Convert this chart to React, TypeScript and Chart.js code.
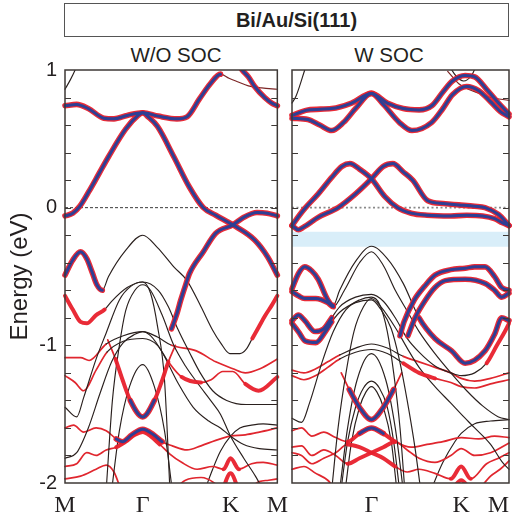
import React, { useEffect, useRef } from 'react';
import { Chart, registerables } from 'chart.js';

Chart.register(...registerables);

// ---------------- axes ----------------
const K_END = 2.732;
const kTicks = [0, 1, 2.13, 2.732];
const kLabels = ['M', 'Γ', 'K', 'M'];
const eMin = -2;
const eMax = 1;
const eLabelStep = 1;
const eMinorTicks = [-1.8, -1.6, -1.4, -1.2, -1, -0.8, -0.6, -0.4, -0.2, 0, 0.2, 0.4, 0.6, 0.8];
const fermiLevel = 0;
const socGapTop = -0.175;
const socGapBottom = -0.283;

// ---------------- W/O SOC bands ([k, E in eV]) ----------------
const L_top = [[0, 0.86], [0.07, 0.93], [0.13, 1.0], [0.2, 1.1]];
const L_A = [[0, 0.74], [0.15, 0.75], [0.3, 0.72], [0.5, 0.65], [0.63, 0.645], [0.8, 0.67], [1.0, 0.69], [1.2, 0.665], [1.44, 0.645], [1.57, 0.66], [1.73, 0.79], [1.87, 0.9], [2.0, 0.97], [2.11, 0.94], [2.22, 0.915], [2.36, 0.885], [2.53, 0.87], [2.732, 0.86]];
const L_B = [[2.15, 1.12], [2.28, 1.0], [2.36, 0.95], [2.44, 0.88], [2.57, 0.8], [2.66, 0.76], [2.732, 0.74]];
const L_C = [[0, -0.06], [0.1, -0.04], [0.19, 0.01], [0.31, 0.12], [0.44, 0.25], [0.56, 0.37], [0.78, 0.57], [0.94, 0.67], [1.0, 0.69], [1.07, 0.66], [1.19, 0.59], [1.4, 0.37], [1.6, 0.15], [1.78, 0.0], [1.94, -0.055], [2.16, -0.125], [2.44, -0.235], [2.61, -0.36], [2.732, -0.49]];
const L_alpha = [[0, -0.49], [0.1, -0.38], [0.2, -0.32], [0.28, -0.37], [0.35, -0.47], [0.41, -0.56], [0.48, -0.6], [0.56, -0.5], [0.78, -0.31], [1.0, -0.2], [1.19, -0.29], [1.4, -0.43], [1.57, -0.53], [1.75, -0.72], [1.9, -0.89], [2.0, -0.98], [2.12, -1.06], [2.25, -1.06], [2.33, -1.03], [2.41, -0.95], [2.49, -0.87], [2.58, -0.78], [2.66, -0.71], [2.732, -0.64]];
const L_D = [[1.37, -0.88], [1.44, -0.77], [1.49, -0.67], [1.57, -0.53], [1.6, -0.48], [1.78, -0.32], [1.94, -0.185], [2.16, -0.125], [2.3, -0.07], [2.47, -0.035], [2.6, -0.04], [2.732, -0.06]];
const L_gam = [[0, -0.64], [0.1, -0.74], [0.2, -0.83], [0.28, -0.84], [0.4, -0.78], [0.51, -0.74], [0.6, -0.68], [0.8, -0.58], [1.0, -0.54], [1.2, -0.6], [1.33, -0.72], [1.45, -0.88], [1.6, -1.05], [1.74, -1.2], [1.9, -1.33], [2.08, -1.4], [2.33, -1.43], [2.732, -1.43]];
const L_K2 = [[0, -1.45], [0.15, -1.52], [0.24, -1.38], [0.4, -1.1], [0.53, -0.91], [0.7, -0.67], [0.85, -0.57], [1.0, -0.54], [1.1, -0.62], [1.19, -0.86], [1.28, -1.25], [1.35, -2.05]];
const L_N1 = [[0.53, -2.05], [0.61, -1.4], [0.7, -1.0], [0.78, -0.75], [0.9, -0.6], [1.0, -0.56], [1.1, -0.6], [1.25, -0.78], [1.4, -1.0], [1.55, -1.15], [1.7, -1.27], [1.9, -1.42], [2.0, -1.5], [2.13, -1.66], [2.3, -1.82], [2.45, -1.95], [2.55, -2.05]];
const L_R1 = [[0, -1.09], [0.2, -1.09], [0.31, -1.11], [0.53, -0.99], [0.75, -0.93], [1.0, -0.9], [1.19, -0.94], [1.37, -1.0], [1.69, -1.04], [1.94, -1.12], [2.16, -1.17], [2.32, -1.2], [2.51, -1.17], [2.732, -1.1]];
const L_R2 = [[0, -1.22], [0.13, -1.27], [0.24, -1.33], [0.4, -1.18], [0.54, -1.05], [0.75, -0.97], [1.0, -0.95], [1.19, -1.0], [1.33, -1.12], [1.5, -1.23], [1.75, -1.27], [1.88, -1.25], [2.03, -1.19], [2.16, -1.19], [2.32, -1.28], [2.49, -1.33], [2.732, -1.23]];
const L_K3 = [[0, -1.82], [0.15, -1.78], [0.3, -1.6], [0.45, -1.35], [0.6, -1.12], [0.75, -0.98], [0.9, -0.92], [1.0, -0.9], [1.1, -0.93], [1.25, -1.05], [1.45, -1.27], [1.65, -1.45], [1.85, -1.55], [2.0, -1.6], [2.13, -1.66], [2.3, -1.72], [2.5, -1.75], [2.732, -1.76]];
const L_N2 = [[0.59, -2.1], [0.7, -1.62], [0.83, -1.3], [1.0, -1.14], [1.15, -1.3], [1.28, -1.62], [1.39, -2.1]];
const L_V = [[0.55, -0.96], [0.65, -1.1], [0.74, -1.25], [0.84, -1.4], [1.0, -1.52], [1.15, -1.4], [1.24, -1.27], [1.33, -1.12], [1.42, -1.0]];
const L_R3 = [[0, -1.6], [0.11, -1.58], [0.24, -1.63], [0.4, -1.6], [0.53, -1.62], [0.66, -1.68], [0.74, -1.7], [0.86, -1.65], [1.0, -1.61], [1.14, -1.65], [1.25, -1.7], [1.38, -1.73], [1.57, -1.76], [1.75, -1.73], [1.94, -1.69], [2.13, -1.66], [2.32, -1.65], [2.5, -1.63], [2.732, -1.6]];
const L_R4 = [[0, -1.88], [0.15, -1.86], [0.28, -1.78], [0.4, -1.8], [0.53, -1.76], [0.66, -1.74], [0.78, -1.7], [0.9, -1.65], [1.0, -1.63], [1.1, -1.66], [1.22, -1.72], [1.35, -1.79], [1.5, -1.85], [1.7, -1.9], [1.9, -1.88], [2.04, -1.9], [2.13, -1.82], [2.24, -1.9], [2.4, -1.86], [2.55, -1.85], [2.732, -1.87]];
const L_R5 = [[0, -1.97], [0.2, -1.95], [0.4, -1.9], [0.53, -1.87], [0.63, -1.92], [0.72, -2.05]];
const L_R6 = [[1.4, -2.05], [1.55, -1.98], [1.75, -1.96], [1.92, -2.0], [2.0, -2.05]];
const L_R7 = [[2.02, -2.06], [2.13, -1.93], [2.24, -2.06]];
const L_R8 = [[2.35, -2.05], [2.5, -1.99], [2.62, -1.98], [2.732, -1.97]];
const L_K4 = [[1.8, -2.05], [1.9, -1.9], [2.0, -1.77], [2.13, -1.66], [2.25, -1.6], [2.4, -1.58], [2.55, -1.57], [2.732, -1.58]];

// ---------------- W SOC bands ([k, E in eV]) ----------------
const R_top = [[0, 0.76], [0.05, 0.81], [0.1, 0.89], [0.16, 1.0], [0.22, 1.1]];
const R_Ua = [[0, 0.67], [0.2, 0.71], [0.5, 0.72], [0.75, 0.76], [1.0, 0.83], [1.2, 0.76], [1.4, 0.72], [1.6, 0.71], [1.76, 0.74], [1.9, 0.84], [2.02, 0.92], [2.18, 0.96], [2.3, 0.95], [2.45, 0.86], [2.6, 0.76], [2.732, 0.68]];
const R_Ub = [[0, 0.65], [0.2, 0.64], [0.35, 0.6], [0.5, 0.56], [0.65, 0.62], [0.8, 0.72], [1.0, 0.83], [1.15, 0.75], [1.35, 0.62], [1.51, 0.56], [1.76, 0.62], [1.9, 0.72], [2.02, 0.82], [2.2, 0.88], [2.35, 0.85], [2.5, 0.77], [2.62, 0.7], [2.732, 0.66]];
const R_T1 = [[1.98, 1.03], [2.06, 0.96], [2.16, 0.92], [2.26, 0.96], [2.32, 1.03]];
const R_T2 = [[1.96, 0.99], [2.1, 0.9], [2.22, 0.86], [2.36, 0.83], [2.5, 0.8], [2.732, 0.78]];
const R_Va = [[0, -0.13], [0.1, -0.05], [0.17, 0.0], [0.33, 0.1], [0.5, 0.22], [0.63, 0.3], [0.73, 0.32], [0.85, 0.28], [1.0, 0.21], [1.17, 0.08], [1.33, 0.0], [1.5, -0.04], [1.7, -0.055], [2.0, -0.06], [2.2, -0.055], [2.4, -0.06], [2.55, -0.08], [2.65, -0.11], [2.732, -0.13]];
const R_Vb = [[0, -0.13], [0.08, -0.16], [0.15, -0.14], [0.33, -0.07], [0.58, 0.0], [0.8, 0.1], [1.0, 0.21], [1.15, 0.3], [1.27, 0.32], [1.4, 0.26], [1.52, 0.2], [1.71, 0.05], [1.9, 0.03], [2.1, 0.02], [2.3, 0.01], [2.43, 0.0], [2.6, -0.05], [2.732, -0.13]];
const R_P1 = [[0, -0.59], [0.08, -0.48], [0.16, -0.43], [0.25, -0.46], [0.33, -0.52], [0.45, -0.67], [0.52, -0.71], [0.6, -0.6], [0.8, -0.39], [1.0, -0.28], [1.2, -0.37], [1.4, -0.55], [1.6, -0.8], [1.8, -0.95], [2.01, -1.04], [2.18, -1.13], [2.43, -1.04], [2.55, -0.92], [2.64, -0.8], [2.732, -0.82]];
const R_P2 = [[0, -0.61], [0.08, -0.64], [0.16, -0.66], [0.3, -0.66], [0.45, -0.69], [0.52, -0.72], [0.66, -0.6], [0.85, -0.4], [1.0, -0.32], [1.15, -0.42], [1.3, -0.6], [1.45, -0.75], [1.6, -0.9], [1.8, -1.06], [2.0, -1.2], [2.2, -1.33], [2.4, -1.44], [2.6, -1.52], [2.732, -1.54]];
const R_D1 = [[1.36, -0.93], [1.41, -0.83], [1.54, -0.67], [1.67, -0.57], [1.8, -0.49], [2.0, -0.45], [2.18, -0.44], [2.3, -0.43], [2.43, -0.43], [2.55, -0.5], [2.64, -0.58], [2.732, -0.6]];
const R_D2 = [[1.46, -0.93], [1.55, -0.8], [1.67, -0.68], [1.8, -0.58], [1.93, -0.53], [2.18, -0.52], [2.43, -0.55], [2.55, -0.6], [2.64, -0.65], [2.732, -0.62]];
const R_P3 = [[0, -0.82], [0.08, -0.78], [0.16, -0.82], [0.29, -0.9], [0.4, -0.88], [0.5, -0.8], [0.6, -0.72], [0.8, -0.65], [1.0, -0.63], [1.15, -0.68], [1.3, -0.8], [1.45, -0.95], [1.6, -1.05], [1.8, -1.15], [2.0, -1.2], [2.13, -1.22], [2.3, -1.2], [2.45, -1.13], [2.58, -1.0], [2.68, -0.9], [2.732, -0.84]];
const R_P4 = [[0, -0.84], [0.08, -0.9], [0.17, -0.97], [0.3, -0.98], [0.42, -0.9], [0.5, -0.83], [0.6, -0.76], [0.8, -0.69], [1.0, -0.67], [1.12, -0.74], [1.25, -0.88], [1.35, -1.1], [1.45, -1.4], [1.55, -1.75], [1.62, -2.05]];
const R_K2 = [[0, -1.53], [0.12, -1.56], [0.22, -1.42], [0.38, -1.12], [0.52, -0.9], [0.68, -0.74], [0.85, -0.67], [1.0, -0.65], [1.1, -0.7], [1.2, -0.9], [1.28, -1.2], [1.36, -1.6], [1.42, -2.05]];
const R_B2 = [[0.5, -2.05], [0.58, -1.6], [0.68, -1.2], [0.78, -0.9], [0.9, -0.72], [1.0, -0.66], [1.12, -0.72], [1.3, -0.87], [1.45, -1.02], [1.6, -1.16], [1.8, -1.3], [2.0, -1.42], [2.13, -1.5], [2.3, -1.6], [2.5, -1.72], [2.65, -1.85], [2.732, -1.9]];
const R_B99 = [[0, -1.18], [0.15, -1.2], [0.3, -1.17], [0.45, -1.12], [0.6, -1.07], [0.8, -1.02], [1.0, -0.99], [1.2, -1.02], [1.4, -1.08], [1.6, -1.12], [1.8, -1.16], [2.0, -1.2], [2.13, -1.24], [2.3, -1.26], [2.5, -1.24], [2.732, -1.2]];
const R_B103 = [[0, -1.22], [0.15, -1.25], [0.3, -1.22], [0.45, -1.16], [0.6, -1.1], [0.8, -1.05], [1.0, -1.03], [1.2, -1.06], [1.4, -1.13], [1.6, -1.2], [1.8, -1.24], [2.0, -1.27], [2.13, -1.3], [2.3, -1.31], [2.5, -1.28], [2.732, -1.25]];
const R_B106 = [[0.6, -2.05], [0.7, -1.6], [0.82, -1.25], [1.0, -1.06], [1.18, -1.25], [1.3, -1.6], [1.4, -2.05]];
const R_B126 = [[0.61, -2.08], [0.7, -1.7], [0.8, -1.45], [0.9, -1.31], [1.0, -1.26], [1.1, -1.31], [1.2, -1.45], [1.28, -1.7], [1.36, -2.08]];
const R_B130 = [[0.67, -2.05], [0.75, -1.7], [0.85, -1.45], [0.93, -1.34], [1.0, -1.3], [1.07, -1.34], [1.15, -1.45], [1.25, -1.7], [1.32, -2.05]];
const R_FV = [[0.62, -1.2], [0.72, -1.32], [0.85, -1.45], [1.0, -1.54], [1.15, -1.45], [1.28, -1.32], [1.38, -1.2]];
const R_FA = [[0, -1.62], [0.12, -1.6], [0.25, -1.66], [0.4, -1.63], [0.55, -1.67], [0.7, -1.7], [0.85, -1.64], [1.0, -1.6], [1.15, -1.64], [1.3, -1.7], [1.5, -1.74], [1.7, -1.72], [1.9, -1.7], [2.13, -1.67], [2.35, -1.68], [2.55, -1.66], [2.732, -1.67]];
const R_FX1 = [[0, -1.74], [0.12, -1.73], [0.25, -1.8], [0.4, -1.76], [0.55, -1.8], [0.7, -1.86], [0.85, -1.82], [1.0, -1.78], [1.15, -1.74], [1.3, -1.7], [1.45, -1.76], [1.6, -1.82], [1.8, -1.85], [2.0, -1.8], [2.13, -1.75], [2.3, -1.8], [2.5, -1.78], [2.732, -1.71]];
const R_FX2 = [[0, -1.78], [0.12, -1.8], [0.25, -1.86], [0.4, -1.82], [0.55, -1.78], [0.7, -1.72], [0.85, -1.74], [1.0, -1.78], [1.15, -1.82], [1.3, -1.88], [1.45, -1.92], [1.6, -1.9], [1.8, -1.93], [2.0, -1.97], [2.13, -1.88], [2.25, -1.97], [2.45, -1.86], [2.6, -1.82], [2.732, -1.78]];
const R_r3 = [[0, -1.9], [0.15, -1.88], [0.3, -1.93], [0.45, -1.98], [0.55, -2.05]];
const R_r4 = [[2.35, -2.05], [2.5, -1.95], [2.62, -1.9], [2.732, -1.84]];
const R_r5 = [[2.0, -2.06], [2.13, -1.98], [2.26, -2.06]];
const R_K4 = [[1.75, -2.05], [1.9, -1.85], [2.05, -1.7], [2.13, -1.64], [2.3, -1.57], [2.5, -1.55], [2.732, -1.54]];

// ---------------- band styling (k-ranges -> line style code) ----------------
const leftBands = [
  { pts: L_top, base: 'k' },
  { pts: L_A, base: 'dr', parts: [[0, 2.0, 'fb']] },
  { pts: L_B, base: 'fb' },
  { pts: L_C, base: 'fb' },
  { pts: L_alpha, base: 'k', parts: [[0, 0.48, 'fb'], [2.41, 2.732, 'f']] },
  { pts: L_D, base: 'fb' },
  { pts: L_gam, base: 'k', parts: [[0, 0.51, 'f']] },
  { pts: L_K2, base: 'k' },
  { pts: L_N1, base: 'k' },
  { pts: L_R1, base: 'r', parts: [[0.53, 1.37, 'k']] },
  { pts: L_R2, base: 'r', parts: [[0.54, 1.33, 'k'], [1.42, 1.8, 'f'], [2.3, 2.732, 'f']] },
  { pts: L_K3, base: 'k' },
  { pts: L_N2, base: 'k' },
  { pts: L_V, base: 'r', parts: [[0.63, 0.84, 'f'], [0.84, 1.15, 'fb'], [1.15, 1.35, 'f']] },
  { pts: L_R3, base: 'r', parts: [[0.7, 1.3, 'fb']] },
  { pts: L_R4, base: 'r', parts: [[0.7, 1.28, 'f'], [2.0, 2.26, 'f']] },
  { pts: L_R5, base: 'r' },
  { pts: L_R6, base: 'r' },
  { pts: L_R7, base: 'f' },
  { pts: L_R8, base: 'r' },
  { pts: L_K4, base: 'k' },
];

const rightBands = [
  { pts: R_top, base: 'k' },
  { pts: R_T1, base: 'k' },
  { pts: R_T2, base: 'dr' },
  { pts: R_Ua, base: 'fb' },
  { pts: R_Ub, base: 'fb' },
  { pts: R_Va, base: 'fb' },
  { pts: R_Vb, base: 'fb' },
  { pts: R_P1, base: 'k', parts: [[0, 0.52, 'fb'], [1.55, 2.732, 'fb']] },
  { pts: R_P2, base: 'k', parts: [[0, 0.52, 'fb']] },
  { pts: R_D1, base: 'fb' },
  { pts: R_D2, base: 'fb' },
  { pts: R_P3, base: 'k', parts: [[0, 0.5, 'fb'], [2.5, 2.732, 'f']] },
  { pts: R_P4, base: 'k', parts: [[0, 0.5, 'fb']] },
  { pts: R_K2, base: 'k' },
  { pts: R_B2, base: 'k' },
  { pts: R_B99, base: 'r', parts: [[0.6, 1.4, 'k']] },
  { pts: R_B103, base: 'r', parts: [[0.6, 1.4, 'k'], [1.4, 1.8, 'f']] },
  { pts: R_B106, base: 'k' },
  { pts: R_B126, base: 'k' },
  { pts: R_B130, base: 'k' },
  { pts: R_FV, base: 'r', parts: [[0.7, 1.3, 'fb']] },
  { pts: R_FA, base: 'r', parts: [[0.7, 0.87, 'f'], [0.87, 1.13, 'fb'], [1.13, 1.3, 'f']] },
  { pts: R_FX1, base: 'r', parts: [[0.72, 1.28, 'f']] },
  { pts: R_FX2, base: 'r', parts: [[0.72, 1.28, 'f'], [2.05, 2.22, 'f']] },
  { pts: R_r3, base: 'r' },
  { pts: R_r4, base: 'r' },
  { pts: R_r5, base: 'f' },
  { pts: R_K4, base: 'k' },
];

const TRANSPARENT = 'rgba(0,0,0,0)';
const BLUE = '#2e3f94';
const STY: any = {
  k: { c: '#2a201e', w: 1.15, layer: 0 },
  dr: { c: '#7c2626', w: 1.2, layer: 0 },
  r: { c: '#e0262e', w: 1.7, layer: 0 },
  f: { c: 'rgba(232,32,44,0.95)', w: 4, layer: 1 },
  fb: { c: 'rgba(232,32,44,0.95)', w: 5.6, layer: 1 },
};
const CORE_WIDTH = 3;

function codeAt(b: any, x: number) {
  for (const [a, z, c] of b.parts || []) if (x >= a && x <= z) return c;
  return b.base;
}

function bandDatasets(b: any) {
  const data = b.pts.map((p: number[]) => ({ x: p[0], y: p[1] }));
  const mid = (ctx: any) => (b.pts[ctx.p0DataIndex][0] + b.pts[ctx.p1DataIndex][0]) / 2;
  const codes: string[] = [];
  for (let i = 0; i < b.pts.length - 1; i++) codes.push(codeAt(b, (b.pts[i][0] + b.pts[i + 1][0]) / 2));
  const common = {
    data,
    pointRadius: 0,
    pointHoverRadius: 0,
    cubicInterpolationMode: 'monotone',
    capBezierPoints: false,
    borderCapStyle: 'round',
    borderJoinStyle: 'round',
    fill: false,
    clip: { left: 4, right: 4, top: 0, bottom: 0 },
  };
  const out: any[] = [];
  if (codes.some((c) => STY[c].layer === 0)) {
    out.push({
      ...common,
      order: 30,
      borderColor: TRANSPARENT,
      borderWidth: 1,
      segment: {
        borderColor: (ctx: any) => (STY[codeAt(b, mid(ctx))].layer === 0 ? STY[codeAt(b, mid(ctx))].c : TRANSPARENT),
        borderWidth: (ctx: any) => STY[codeAt(b, mid(ctx))].w,
      },
    });
  }
  if (codes.some((c) => STY[c].layer === 1)) {
    out.push({
      ...common,
      order: 20,
      borderColor: TRANSPARENT,
      borderWidth: 1,
      segment: {
        borderColor: (ctx: any) => (STY[codeAt(b, mid(ctx))].layer === 1 ? STY[codeAt(b, mid(ctx))].c : TRANSPARENT),
        borderWidth: (ctx: any) => STY[codeAt(b, mid(ctx))].w,
      },
    });
  }
  if (codes.some((c) => c === 'fb')) {
    out.push({
      ...common,
      order: 10,
      borderColor: TRANSPARENT,
      borderWidth: 1,
      segment: {
        borderColor: (ctx: any) => (codeAt(b, mid(ctx)) === 'fb' ? BLUE : TRANSPARENT),
        borderWidth: CORE_WIDTH,
      },
    });
  }
  return out;
}

const framePlugin = {
  id: 'bandFrame',
  afterDatasetsDraw(chart: any) {
    const { ctx, chartArea: a, scales } = chart;
    const y = scales.y;
    ctx.save();
    ctx.strokeStyle = '#3e3936';
    ctx.lineWidth = 1.5;
    ctx.strokeRect(a.left, a.top, a.right - a.left, a.bottom - a.top);
    ctx.lineWidth = 1.2;
    ctx.beginPath();
    for (const v of eMinorTicks) {
      const py = Math.round(y.getPixelForValue(v)) + 0.5;
      ctx.moveTo(a.left, py);
      ctx.lineTo(a.left + 6, py);
      ctx.moveTo(a.right - 6, py);
      ctx.lineTo(a.right, py);
    }
    ctx.stroke();
    ctx.restore();
  },
};

function makeConfig(bands: any[], withGap: boolean, isLeft: boolean) {
  const datasets: any[] = [];
  if (withGap) {
    datasets.push({
      data: [{ x: 0, y: socGapTop }, { x: K_END, y: socGapTop }],
      borderWidth: 0,
      borderColor: TRANSPARENT,
      backgroundColor: '#d9eef9',
      fill: { value: socGapBottom },
      pointRadius: 0,
      order: 100,
    });
  }
  datasets.push({
    data: [{ x: 0, y: fermiLevel }, { x: K_END, y: fermiLevel }],
    borderColor: isLeft ? '#3a3a3a' : '#8a8a8a',
    borderWidth: isLeft ? 1 : 1.6,
    borderDash: isLeft ? [3, 2] : [2, 2.5],
    pointRadius: 0,
    fill: false,
    order: 50,
  });
  for (const b of bands) datasets.push(...bandDatasets(b));

  return {
    type: 'line',
    data: { datasets },
    plugins: [framePlugin],
    options: {
      animation: false,
      responsive: false,
      events: [],
      layout: { padding: isLeft ? { left: 0, right: 5, top: 70, bottom: 0 } : { left: 4, right: 6, top: 70, bottom: 0 } },
      elements: { line: { capBezierPoints: false } },
      plugins: { legend: { display: false }, tooltip: { enabled: false }, title: { display: false } },
      scales: {
        x: {
          type: 'linear',
          min: 0,
          max: K_END,
          grid: { display: false },
          border: { display: false },
          afterBuildTicks: (s: any) => {
            s.ticks = kTicks.map((v) => ({ value: v }));
          },
          afterFit: (s: any) => {
            s.height = 32;
          },
          ticks: {
            autoSkip: false,
            maxRotation: 0,
            padding: 0,
            align: isLeft ? 'center' : 'inner',
            color: '#231f20',
            font: { family: '"Liberation Serif", "Times New Roman", serif', size: 24 },
            callback: (_v: any, i: number) => (!isLeft && i === 0 ? '' : kLabels[i]),
          },
        },
        y: {
          type: 'linear',
          min: eMin,
          max: eMax,
          display: isLeft,
          grid: { display: false, drawTicks: false },
          border: { display: false },
          afterFit: (s: any) => {
            s.width = isLeft ? 65 : 0;
          },
          ticks: {
            stepSize: eLabelStep,
            padding: 8,
            color: '#231f20',
            font: { family: '"Liberation Sans", Arial, sans-serif', size: 20 },
          },
          title: {
            display: isLeft,
            text: 'Energy (eV)',
            color: '#231f20',
            font: { family: '"Liberation Sans", Arial, sans-serif', size: 24 },
            padding: { top: 6, bottom: 0 },
          },
        },
      },
    },
  };
}

function Panel({ bands, withGap, isLeft, left, width }: any) {
  const ref = useRef<HTMLCanvasElement>(null);
  useEffect(() => {
    const chart = new Chart(ref.current as any, makeConfig(bands, withGap, isLeft) as any);
    return () => chart.destroy();
  }, []);
  return (
    <canvas
      ref={ref}
      width={width}
      height={515}
      style={{ position: 'absolute', left, top: 0, width, height: 515, display: 'block' }}
    />
  );
}

const textFont = '"Liberation Sans", Arial, sans-serif';

export default function App() {
  return (
    <div style={{ position: 'absolute', left: 0, top: 0, width: 515, height: 515, background: '#fff', overflow: 'hidden' }}>
      <div
        style={{
          position: 'absolute',
          left: 64,
          top: 3,
          width: 445,
          height: 34,
          boxSizing: 'border-box',
          border: '1.3px solid #555',
          display: 'flex',
          alignItems: 'center',
          justifyContent: 'center',
          paddingLeft: 20,
          fontFamily: textFont,
          fontWeight: 'bold',
          fontSize: 20,
          color: '#231f20',
        }}
      >
        Bi/Au/Si(111)
      </div>
      <div style={{ position: 'absolute', left: 67, top: 45, width: 218, textAlign: 'center', fontFamily: textFont, fontSize: 20.5, lineHeight: '20px', color: '#231f20' }}>
        W/O SOC
      </div>
      <div style={{ position: 'absolute', left: 289, top: 45, width: 200, textAlign: 'center', fontFamily: textFont, fontSize: 20.5, lineHeight: '20px', color: '#231f20' }}>
        W SOC
      </div>
      <Panel bands={leftBands} withGap={false} isLeft={true} left={0} width={288} />
      <Panel bands={rightBands} withGap={true} isLeft={false} left={288} width={227} />
    </div>
  );
}
